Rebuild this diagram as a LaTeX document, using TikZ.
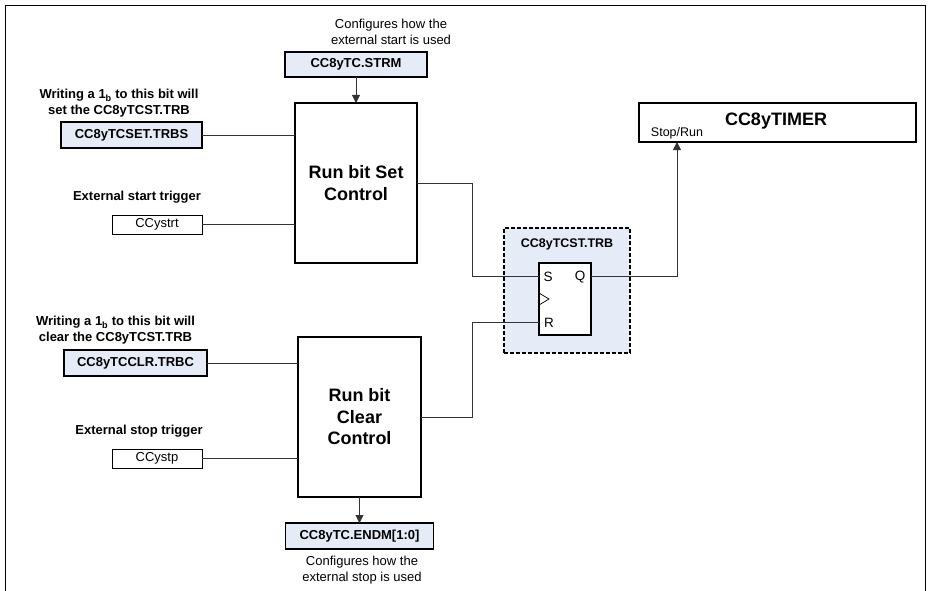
\documentclass[tikz,border=0pt]{standalone}
\usepackage{fontspec}
\setmainfont{Liberation Sans}
\usetikzlibrary{arrows.meta,calc}
\definecolor{regblue}{HTML}{E6ECF7}
\definecolor{wire}{HTML}{333333}
\tikzset{
  base/.style={inner sep=0pt, outer sep=0pt},
  reg/.style={base, draw=black, fill=regblue, line width=1.2pt, font=\bfseries\fontsize{13}{15}\selectfont},
  inbox/.style={base, draw=black, fill=white, line width=0.9pt, font=\fontsize{13}{15}\selectfont, minimum width=90, minimum height=19},
  ctl/.style={base, draw=black, line width=1.2pt, align=center, font=\bfseries\fontsize{18}{21.5}\selectfont},
  capn/.style={base, align=center, font=\fontsize{13}{16}\selectfont},
  capb/.style={base, align=center, font=\bfseries\fontsize{13}{15.5}\selectfont},
  wireln/.style={draw=wire, line width=0.8pt},
  arr/.style={wireln, -{Triangle[length=8pt,width=8pt]}},
}
\begin{document}
\begin{tikzpicture}[x=1pt,y=-1pt]
\useasboundingbox (0,0) rectangle (928,591);
% outer frame
\coordinate (fbl) at (5,591);
\coordinate (ftl) at (5,6);
\coordinate (ftr) at (925,6);
\coordinate (fbr) at (925,591);
\draw[line width=1pt] (fbl) -- (ftl) -- (ftr) -- (fbr);

% top part
\node[capn] (capstrm) at (391,32) {Configures how the\\external start is used};
\node[reg, minimum width=142, minimum height=25] (strm) at (356,64.5) {CC8yTC.STRM};
\node[ctl, minimum width=122, minimum height=160] (setctl) at (356,183) {Run bit Set\\Control};
\node[capb] (captrbs) at (119,103) {Writing a 1\textsubscript{b} to this bit will\\set the CC8yTCST.TRB};
\node[reg, minimum width=141, minimum height=26] (trbs) at (131.5,135) {CC8yTCSET.TRBS};
\node[capb] (capstrt) at (137,197) {External start trigger};
\node[inbox] (ccystrt) at (157,224.5) {CCystrt};

% bottom part
\node[ctl, minimum width=123, minimum height=160] (clrctl) at (359.5,417) {Run bit\\Clear\\Control};
\node[capb] (captrbc) at (115.5,330) {Writing a 1\textsubscript{b} to this bit will\\clear the CC8yTCST.TRB};
\node[reg, minimum width=143, minimum height=26] (trbc) at (135.5,363) {CC8yTCCLR.TRBC};
\node[capb] (capstp) at (139,431) {External stop trigger};
\node[inbox] (ccystp) at (157,458.5) {CCystp};
\node[reg, minimum width=148, minimum height=26] (endm) at (359.5,536) {CC8yTC.ENDM[1:0]};
\node[capn] (capendm) at (362,570.5) {Configures how the\\external stop is used};

% flip-flop
\node[base, draw=black, fill=regblue, dash pattern=on 4pt off 2pt, line width=1.2pt, minimum width=126, minimum height=125] (trbgrp) at (567,290.5) {};
\node[base, font=\bfseries\fontsize{12.5}{15}\selectfont] (trblab) at (567,244) {CC8yTCST.TRB};
\node[base, draw=black, fill=white, line width=1.8pt, minimum width=52, minimum height=72] (ff) at (565,299) {};
\node[base, font=\fontsize{13.5}{15}\selectfont] (ffs) at (548,277) {S};
\node[base, font=\fontsize{13.5}{15}\selectfont] (ffq) at (580,277) {Q};
\node[base, font=\fontsize{13.5}{15}\selectfont] (ffr) at (549,323) {R};
\coordinate (ffS) at (539,276);
\coordinate (ffR) at (539,322);
\coordinate (ffQ) at (591,276);
\coordinate (clk1) at (539,293);
\coordinate (clk2) at (549,299);
\coordinate (clk3) at (539,305);
\draw[line width=0.7pt] (clk1) -- (clk2) -- (clk3);

% timer
\node[base, draw=black, line width=1.2pt, minimum width=277, minimum height=39] (timer) at (777.5,122.5) {};
\node[base, font=\bfseries\fontsize{18}{20}\selectfont] (timerlab) at (776,121) {CC8yTIMER};
\node[base, font=\fontsize{12.5}{14}\selectfont] (stoprun) at (677,133) {Stop/Run};
\coordinate (tin) at (677,142);

% connectors
\draw[arr] (strm.south) -- (setctl.north);
\draw[wireln] (trbs.east) -- (trbs.east -| setctl.west);
\draw[wireln] (ccystrt.east) -- (ccystrt.east -| setctl.west);
\draw[wireln] (setctl.east) -| ($(ffS)+(-67,0)$) -- (ffS);
\draw[wireln] (trbc.east) -- (trbc.east -| clrctl.west);
\draw[wireln] (ccystp.east) -- (ccystp.east -| clrctl.west);
\draw[wireln] (clrctl.east) -| ($(ffR)+(-67,0)$) -- (ffR);
\draw[arr] (clrctl.south) -- (endm.north);
\draw[arr] (ffQ) -| (tin);
\end{tikzpicture}
\end{document}
